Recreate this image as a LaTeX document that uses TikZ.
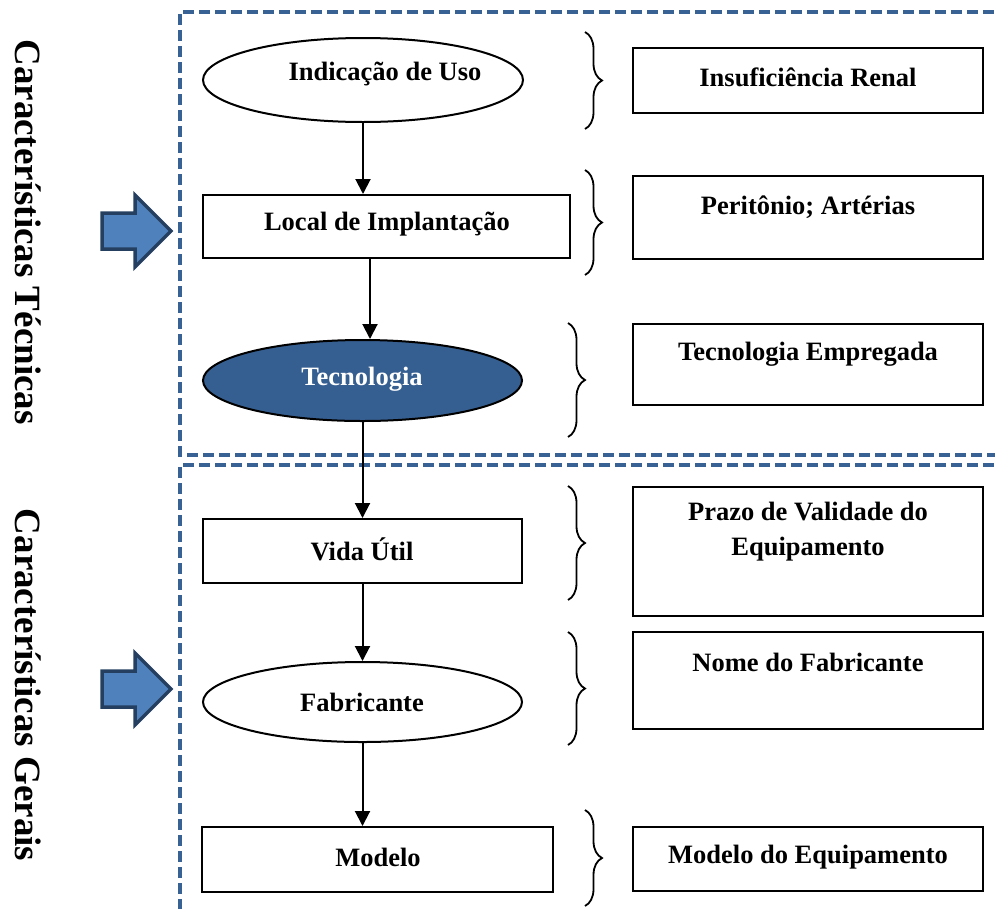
\documentclass[tikz,border=0pt]{standalone}
\usepackage{fontspec}
\setmainfont{Liberation Serif}
\usetikzlibrary{shapes.geometric,decorations.pathreplacing,arrows.meta}
\definecolor{frameblue}{RGB}{56,98,148}
\definecolor{arrowfill}{RGB}{79,129,189}
\definecolor{arrowedge}{RGB}{36,63,96}
\definecolor{techfill}{RGB}{54,95,145}
\begin{document}
\begin{tikzpicture}[x=1pt,y=-1pt,
  every node/.style={font=\fontsize{26.5}{35}\selectfont\bfseries},
  box/.style={draw, line width=2pt, inner sep=0pt, rectangle},
  oval/.style={draw, line width=2pt, ellipse, inner sep=0pt},
  lbl/.style={inner sep=0pt, align=center},
  flow/.style={line width=2pt, -{Triangle[width=15pt,length=15pt]}},
  frame/.style={draw=frameblue, line width=4pt, dash pattern=on 11pt off 5pt},
  curly/.style={line width=1.8pt, decorate, decoration={brace, amplitude=17pt}},
  blockarrow/.style={fill=arrowfill, draw=arrowedge, line width=3.5pt, line join=miter},
  side/.style={rotate=-90, inner sep=0pt, font=\fontsize{37}{40}\selectfont\bfseries}
]
\useasboundingbox (0,0) rectangle (995,908);
\clip (0,0) rectangle (995,908);

% dashed frames of the two groups
\draw[frame] (1010,12) -- (180,12) -- (180,455) -- (1010,455);
\draw[frame] (1010,465) -- (180,465) -- (180,920);

% group titles
\node[side] (ttec) at (28,232) {Características Técnicas};
\node[side] (tger) at (28,685) {Características Gerais};

% block arrows pointing at the groups
\draw[blockarrow] (102,213) -- (135,213) -- (135,195) -- (171,231) -- (135,267) -- (135,249) -- (102,249) -- cycle;
\draw[blockarrow] (102,671) -- (135,671) -- (135,653) -- (171,689) -- (135,725) -- (135,707) -- (102,707) -- cycle;

% flow column
\node[oval, minimum width=320pt, minimum height=84pt] (uso) at (363,80) {};
\node[lbl] (tuso) at (385,74) {Indicação de Uso};

\node[box, minimum width=367pt, minimum height=63pt] (local) at (386.5,226.5) {};
\node[lbl] (tlocal) at (387,224) {Local de Implantação};

\node[oval, fill=techfill, minimum width=319pt, minimum height=81pt] (tec) at (362.5,380.5) {};
\node[lbl, text=white] (ttecno) at (362,379) {Tecnologia};

\node[box, minimum width=319pt, minimum height=64pt] (vida) at (362.5,551) {};
\node[lbl] (tvida) at (362,549) {Vida Útil};

\node[oval, minimum width=319pt, minimum height=80pt] (fab) at (362.5,702) {};
\node[lbl] (tfab) at (362,702) {Fabricante};

\node[box, minimum width=351pt, minimum height=65pt] (modelo) at (377.5,859.5) {};
\node[lbl] (tmodelo) at (378,857) {Modelo};

% connectors
\draw[flow] (uso.south) -- (uso.south |- local.north);
\draw[flow] ([xshift=-16.5pt]local.south) -- ([xshift=-16.5pt]local.south |- tec.north);
\draw[flow] (tec.south) -- (tec.south |- vida.north);
\draw[flow] (vida.south) -- (vida.south |- fab.north);
\draw[flow] (fab.south) -- (fab.south |- modelo.north);

% braces
\draw[curly] (585,32) -- (585,129);
\draw[curly] (585,170) -- (585,275);
\draw[curly] (568,323) -- (568,437);
\draw[curly] (568,486) -- (568,600);
\draw[curly] (568,632) -- (568,745);
\draw[curly] (585,810) -- (585,906);

% description boxes
\node[box, minimum width=350pt, minimum height=65pt] (r1) at (808,80.5) {};
\node[lbl] (tr1) at (808,77) {Insuficiência Renal};

\node[box, minimum width=350pt, minimum height=83pt] (r2) at (808,217.5) {};
\node[lbl] (tr2) at (808,207) {Peritônio; Artérias};

\node[box, minimum width=350pt, minimum height=81pt] (r3) at (808,364.5) {};
\node[lbl] (tr3) at (808,354) {Tecnologia Empregada};

\node[box, minimum width=350pt, minimum height=129pt] (r4) at (808,551.5) {};
\node[lbl] (tr4) at (808,532) {Prazo de Validade do\\Equipamento};

\node[box, minimum width=350pt, minimum height=97pt] (r5) at (808,680.5) {};
\node[lbl] (tr5) at (808,662) {Nome do Fabricante};

\node[box, minimum width=350pt, minimum height=64pt] (r6) at (808,859) {};
\node[lbl] (tr6) at (808,857) {Modelo do Equipamento};
\end{tikzpicture}
\end{document}
